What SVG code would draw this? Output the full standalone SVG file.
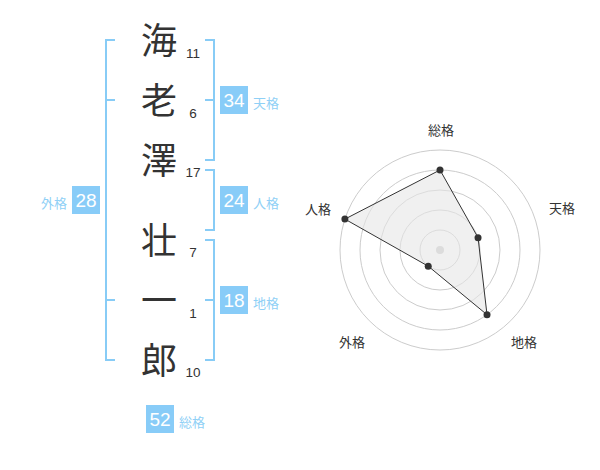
<svg xmlns="http://www.w3.org/2000/svg" width="600" height="470" viewBox="0 0 600 470">
<style>
.ch{font-family:"Noto Sans CJK JP","Noto Sans CJK SC",sans-serif;font-size:36px;fill:#333;text-anchor:middle}
.num{font-family:"Liberation Sans",Arial,sans-serif;font-size:13.5px;fill:#333;text-anchor:middle}
.br{fill:none;stroke:#88ccf6;stroke-width:2}
.box{fill:#88ccf8}
.bt{font-family:"Liberation Sans",Arial,sans-serif;font-size:19px;fill:#fff;text-anchor:middle}
.lb{font-family:"Noto Sans CJK JP",sans-serif;font-size:13px;fill:#8fd0f6}
.rl{font-family:"Noto Sans CJK JP",sans-serif;font-size:13px;fill:#333;text-anchor:middle}
.ring{fill:none;stroke:#cccccc;stroke-width:1}
.dot{fill:#333}
</style>
<rect width="600" height="470" fill="#fff"/>
<g id="connectors">
<path class="br" d="M115,40 H106 V360 H115 M106,100 H115 M106,300 H115"/>
<path class="br" d="M205,40 H214 V160 H205 M205,100 H214"/>
<path class="br" d="M205,170 H214 V230 H205"/>
<path class="br" d="M205,240 H214 V360 H205 M205,300 H214"/>
</g>
<g id="char1"><text class="ch" x="159" y="54">海</text><text class="num" x="193" y="58">11</text></g>
<g id="char2"><text class="ch" x="159" y="114">老</text><text class="num" x="193" y="118">6</text></g>
<g id="char3"><text class="ch" x="159" y="174">澤</text><text class="num" x="193" y="177">17</text></g>
<g id="char4"><text class="ch" x="159" y="254">壮</text><text class="num" x="193" y="257">7</text></g>
<g id="char5"><text class="ch" x="159" y="314">一</text><text class="num" x="193" y="318">1</text></g>
<g id="char6"><text class="ch" x="159" y="374">郎</text><text class="num" x="193" y="377">10</text></g>
<g id="tenkaku"><rect class="box" x="220" y="86" width="28" height="28"/><text class="bt" x="234" y="107">34</text><text class="lb" x="253" y="108">天格</text></g>
<g id="jinkaku"><rect class="box" x="220" y="186" width="28" height="28"/><text class="bt" x="234" y="207">24</text><text class="lb" x="253" y="208">人格</text></g>
<g id="chikaku"><rect class="box" x="220" y="286" width="28" height="28"/><text class="bt" x="234" y="307">18</text><text class="lb" x="253" y="308">地格</text></g>
<g id="gaikaku"><rect class="box" x="72" y="186" width="28" height="28"/><text class="bt" x="86" y="207">28</text><text class="lb" x="41" y="208">外格</text></g>
<g id="soukaku"><rect class="box" x="146" y="405" width="28" height="28"/><text class="bt" x="160" y="426">52</text><text class="lb" x="179" y="427">総格</text></g>
<g id="radar">
<circle class="ring" cx="440" cy="250" r="20"/>
<circle class="ring" cx="440" cy="250" r="40"/>
<circle class="ring" cx="440" cy="250" r="60"/>
<circle class="ring" cx="440" cy="250" r="80"/>
<circle class="ring" cx="440" cy="250" r="100"/>
<circle cx="440" cy="250" r="4" fill="#cccccc"/>
<polygon points="440,170 478.04,237.64 487.02,314.72 428.24,266.18 344.9,219.1" fill="#e6e6e6" fill-opacity="0.6" stroke="#333" stroke-width="1"/>
<circle class="dot" cx="440" cy="170" r="3.5"/>
<circle class="dot" cx="478.04" cy="237.64" r="3.5"/>
<circle class="dot" cx="487.02" cy="314.72" r="3.5"/>
<circle class="dot" cx="428.24" cy="266.18" r="3.5"/>
<circle class="dot" cx="344.9" cy="219.1" r="3.5"/>
<text class="rl" x="441" y="135">総格</text>
<text class="rl" x="562" y="213">天格</text>
<text class="rl" x="524" y="347">地格</text>
<text class="rl" x="352" y="347">外格</text>
<text class="rl" x="318" y="214">人格</text>
</g>
</svg>
